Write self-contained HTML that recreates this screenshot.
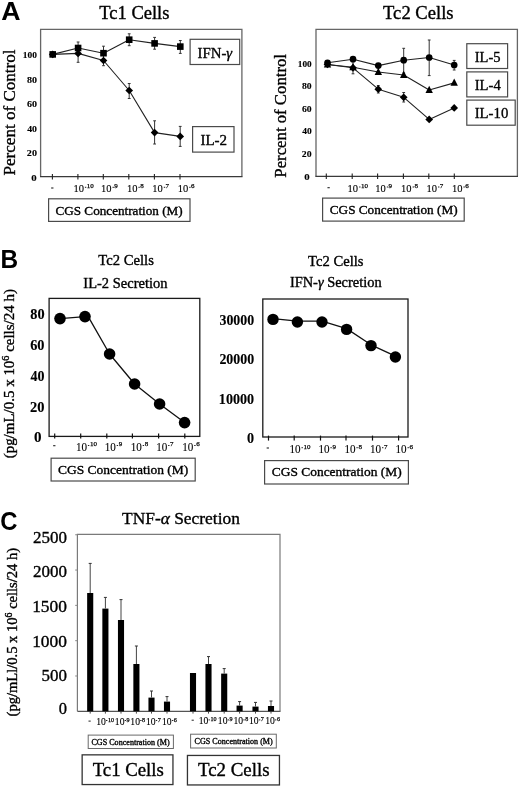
<!DOCTYPE html><html><head><meta charset="utf-8"><style>html,body{margin:0;padding:0;background:#fff;width:520px;height:787px;overflow:hidden}svg{display:block;will-change:transform}text{stroke:#000;stroke-width:0.35px;stroke-linejoin:round}</style></head><body>
<svg width="520" height="787" viewBox="0 0 520 787">
<rect x="0" y="0" width="520" height="787" fill="#fff"/>
<text x="1.33" y="19.6" font-size="25.2" font-weight="bold" font-family='"Liberation Sans", sans-serif' fill="#000" textLength="19.29" lengthAdjust="spacingAndGlyphs" style="stroke:none">A</text>
<text x="99.28" y="19.2" font-size="18.5" font-weight="normal" font-family='"Liberation Serif", serif' fill="#000" textLength="70.18" lengthAdjust="spacingAndGlyphs">Tc1 Cells</text>
<polyline points="40.6,176.6 40.6,29.4 241.9,29.4 241.9,176.6" fill="none" stroke="#666" stroke-width="1.3"/>
<line x1="40.0" y1="176.6" x2="242.5" y2="176.6" stroke="#3a3a3a" stroke-width="1.3"/>
<text x="31.29" y="180.9" font-size="9.2" font-weight="bold" font-family='"Liberation Serif", serif' fill="#000" textLength="5.41" lengthAdjust="spacingAndGlyphs" style="stroke-width:0.12px">0</text>
<text x="26.87" y="156.4" font-size="9.2" font-weight="bold" font-family='"Liberation Serif", serif' fill="#000" textLength="10.11" lengthAdjust="spacingAndGlyphs" style="stroke-width:0.12px">20</text>
<text x="27.18" y="131.9" font-size="9.2" font-weight="bold" font-family='"Liberation Serif", serif' fill="#000" textLength="9.79" lengthAdjust="spacingAndGlyphs" style="stroke-width:0.12px">40</text>
<text x="26.95" y="107.4" font-size="9.2" font-weight="bold" font-family='"Liberation Serif", serif' fill="#000" textLength="10.03" lengthAdjust="spacingAndGlyphs" style="stroke-width:0.12px">60</text>
<text x="26.98" y="82.9" font-size="9.2" font-weight="bold" font-family='"Liberation Serif", serif' fill="#000" textLength="10.0" lengthAdjust="spacingAndGlyphs" style="stroke-width:0.12px">80</text>
<text x="22.85" y="58.4" font-size="9.2" font-weight="bold" font-family='"Liberation Serif", serif' fill="#000" textLength="14.1" lengthAdjust="spacingAndGlyphs" style="stroke-width:0.12px">100</text>
<line x1="52.4" y1="174.0" x2="52.4" y2="179.4" stroke="#222" stroke-width="1.1"/>
<line x1="77.9" y1="174.0" x2="77.9" y2="179.4" stroke="#222" stroke-width="1.1"/>
<line x1="103.3" y1="174.0" x2="103.3" y2="179.4" stroke="#222" stroke-width="1.1"/>
<line x1="128.8" y1="174.0" x2="128.8" y2="179.4" stroke="#222" stroke-width="1.1"/>
<line x1="154.4" y1="174.0" x2="154.4" y2="179.4" stroke="#222" stroke-width="1.1"/>
<line x1="180.0" y1="174.0" x2="180.0" y2="179.4" stroke="#222" stroke-width="1.1"/>
<rect x="51.15" y="187.45" width="2.3" height="1.1" fill="#222"/>
<text x="73.38" y="192.3" font-size="11.0" font-family='"Liberation Serif", serif' fill="#000" textLength="10.53" lengthAdjust="spacingAndGlyphs" style="stroke-width:0.1px">10</text>
<rect x="84.9" y="186.8" width="1.4" height="1.0" fill="#222"/>
<text x="86.7" y="188.2" font-size="7.0" font-family='"Liberation Serif", serif' fill="#000" style="stroke-width:0.25px">10</text>
<text x="100.98" y="192.3" font-size="11.0" font-family='"Liberation Serif", serif' fill="#000" textLength="10.53" lengthAdjust="spacingAndGlyphs" style="stroke-width:0.1px">10</text>
<rect x="112.5" y="186.8" width="1.4" height="1.0" fill="#222"/>
<text x="114.3" y="188.2" font-size="7.0" font-family='"Liberation Serif", serif' fill="#000" style="stroke-width:0.25px">9</text>
<text x="126.88" y="192.3" font-size="11.0" font-family='"Liberation Serif", serif' fill="#000" textLength="10.53" lengthAdjust="spacingAndGlyphs" style="stroke-width:0.1px">10</text>
<rect x="138.4" y="186.8" width="1.4" height="1.0" fill="#222"/>
<text x="140.2" y="188.2" font-size="7.0" font-family='"Liberation Serif", serif' fill="#000" style="stroke-width:0.25px">8</text>
<text x="152.28" y="192.3" font-size="11.0" font-family='"Liberation Serif", serif' fill="#000" textLength="10.53" lengthAdjust="spacingAndGlyphs" style="stroke-width:0.1px">10</text>
<rect x="163.8" y="186.8" width="1.4" height="1.0" fill="#222"/>
<text x="165.6" y="188.2" font-size="7.0" font-family='"Liberation Serif", serif' fill="#000" style="stroke-width:0.25px">7</text>
<text x="177.68" y="192.3" font-size="11.0" font-family='"Liberation Serif", serif' fill="#000" textLength="10.53" lengthAdjust="spacingAndGlyphs" style="stroke-width:0.1px">10</text>
<rect x="189.2" y="186.8" width="1.4" height="1.0" fill="#222"/>
<text x="191.0" y="188.2" font-size="7.0" font-family='"Liberation Serif", serif' fill="#000" style="stroke-width:0.25px">6</text>
<text transform="translate(14.6,175.47) rotate(-90)" font-size="17" font-weight="normal" font-family='"Liberation Serif", serif' fill="#000" textLength="126.01" lengthAdjust="spacingAndGlyphs">Percent of Control</text>
<polyline points="52.7,54.4 78.1,53.4 103.5,60.5 129.2,90.5 154.6,132.6 180.2,136.4" fill="none" stroke="#222" stroke-width="1.1" stroke-linejoin="round"/>
<polyline points="52.7,54.4 78.1,48.0 103.5,53.2 129.2,39.7 154.6,43.4 180.3,46.6" fill="none" stroke="#222" stroke-width="1.1" stroke-linejoin="round"/>
<line x1="78.1" y1="42.0" x2="78.1" y2="62.3" stroke="#333" stroke-width="1"/>
<line x1="76.7" y1="42.0" x2="79.5" y2="42.0" stroke="#333" stroke-width="1"/>
<line x1="76.7" y1="62.3" x2="79.5" y2="62.3" stroke="#333" stroke-width="1"/>
<line x1="103.5" y1="46.2" x2="103.5" y2="65.7" stroke="#333" stroke-width="1"/>
<line x1="102.1" y1="46.2" x2="104.9" y2="46.2" stroke="#333" stroke-width="1"/>
<line x1="102.1" y1="65.7" x2="104.9" y2="65.7" stroke="#333" stroke-width="1"/>
<line x1="129.2" y1="33.8" x2="129.2" y2="45.7" stroke="#333" stroke-width="1"/>
<line x1="127.8" y1="33.8" x2="130.6" y2="33.8" stroke="#333" stroke-width="1"/>
<line x1="127.8" y1="45.7" x2="130.6" y2="45.7" stroke="#333" stroke-width="1"/>
<line x1="154.6" y1="37.4" x2="154.6" y2="49.2" stroke="#333" stroke-width="1"/>
<line x1="153.2" y1="37.4" x2="156.0" y2="37.4" stroke="#333" stroke-width="1"/>
<line x1="153.2" y1="49.2" x2="156.0" y2="49.2" stroke="#333" stroke-width="1"/>
<line x1="180.3" y1="40.5" x2="180.3" y2="53.4" stroke="#333" stroke-width="1"/>
<line x1="178.9" y1="40.5" x2="181.7" y2="40.5" stroke="#333" stroke-width="1"/>
<line x1="178.9" y1="53.4" x2="181.7" y2="53.4" stroke="#333" stroke-width="1"/>
<line x1="129.2" y1="83.5" x2="129.2" y2="98.5" stroke="#333" stroke-width="1"/>
<line x1="127.8" y1="83.5" x2="130.6" y2="83.5" stroke="#333" stroke-width="1"/>
<line x1="127.8" y1="98.5" x2="130.6" y2="98.5" stroke="#333" stroke-width="1"/>
<line x1="154.6" y1="120.8" x2="154.6" y2="144.0" stroke="#333" stroke-width="1"/>
<line x1="153.2" y1="120.8" x2="156.0" y2="120.8" stroke="#333" stroke-width="1"/>
<line x1="153.2" y1="144.0" x2="156.0" y2="144.0" stroke="#333" stroke-width="1"/>
<line x1="180.2" y1="126.4" x2="180.2" y2="146.4" stroke="#333" stroke-width="1"/>
<line x1="178.8" y1="126.4" x2="181.6" y2="126.4" stroke="#333" stroke-width="1"/>
<line x1="178.8" y1="146.4" x2="181.6" y2="146.4" stroke="#333" stroke-width="1"/>
<polygon points="52.7,50.55 56.55,54.4 52.7,58.25 48.85,54.4" fill="#000"/>
<polygon points="78.1,49.55 81.95,53.4 78.1,57.25 74.25,53.4" fill="#000"/>
<polygon points="103.5,56.65 107.35,60.5 103.5,64.35 99.65,60.5" fill="#000"/>
<polygon points="129.2,86.65 133.05,90.5 129.2,94.35 125.35,90.5" fill="#000"/>
<polygon points="154.6,128.75 158.45,132.6 154.6,136.45 150.75,132.6" fill="#000"/>
<polygon points="180.2,132.55 184.05,136.4 180.2,140.25 176.35,136.4" fill="#000"/>
<rect x="49.4" y="51.1" width="6.6" height="6.6" fill="#000"/>
<rect x="74.8" y="44.7" width="6.6" height="6.6" fill="#000"/>
<rect x="100.2" y="49.9" width="6.6" height="6.6" fill="#000"/>
<rect x="125.9" y="36.4" width="6.6" height="6.6" fill="#000"/>
<rect x="151.3" y="40.1" width="6.6" height="6.6" fill="#000"/>
<rect x="177.0" y="43.3" width="6.6" height="6.6" fill="#000"/>
<rect x="190.1" y="39.3" width="49.6" height="25.2" stroke="#4a4a4a" stroke-width="1.2" fill="none"/>
<text x="197.59" y="57.7" font-size="14.5" font-weight="normal" font-family='"Liberation Serif", serif' fill="#000" textLength="34.62" lengthAdjust="spacingAndGlyphs">IFN-<tspan font-style="italic">γ</tspan></text>
<rect x="192.6" y="126.6" width="41.4" height="25.5" stroke="#4a4a4a" stroke-width="1.2" fill="none"/>
<text x="200.48" y="145.1" font-size="14.5" font-weight="normal" font-family='"Liberation Serif", serif' fill="#000" textLength="26.64" lengthAdjust="spacingAndGlyphs">IL-2</text>
<rect x="48.6" y="198.8" width="141.4" height="22.6" stroke="#4a4a4a" stroke-width="1.2" fill="none"/>
<text x="55.47" y="214.8" font-size="12.5" font-weight="normal" font-family='"Liberation Serif", serif' fill="#000" textLength="127.19" lengthAdjust="spacingAndGlyphs">CGS Concentration (M)</text>
<text x="383.07" y="19.2" font-size="18.5" font-weight="normal" font-family='"Liberation Serif", serif' fill="#000" textLength="70.49" lengthAdjust="spacingAndGlyphs">Tc2 Cells</text>
<polyline points="316,176.4 316,29.4 517.4,29.4 517.4,176.4" fill="none" stroke="#666" stroke-width="1.3"/>
<line x1="315.4" y1="176.4" x2="518.0" y2="176.4" stroke="#3a3a3a" stroke-width="1.3"/>
<text x="304.39" y="179.5" font-size="9.2" font-weight="bold" font-family='"Liberation Serif", serif' fill="#000" textLength="5.41" lengthAdjust="spacingAndGlyphs" style="stroke-width:0.12px">0</text>
<text x="301.88" y="156.9" font-size="9.2" font-weight="bold" font-family='"Liberation Serif", serif' fill="#000" textLength="9.78" lengthAdjust="spacingAndGlyphs" style="stroke-width:0.12px">20</text>
<text x="302.18" y="134.3" font-size="9.2" font-weight="bold" font-family='"Liberation Serif", serif' fill="#000" textLength="9.47" lengthAdjust="spacingAndGlyphs" style="stroke-width:0.12px">40</text>
<text x="301.96" y="111.7" font-size="9.2" font-weight="bold" font-family='"Liberation Serif", serif' fill="#000" textLength="9.7" lengthAdjust="spacingAndGlyphs" style="stroke-width:0.12px">60</text>
<text x="301.99" y="89.1" font-size="9.2" font-weight="bold" font-family='"Liberation Serif", serif' fill="#000" textLength="9.68" lengthAdjust="spacingAndGlyphs" style="stroke-width:0.12px">80</text>
<text x="297.76" y="66.5" font-size="9.2" font-weight="bold" font-family='"Liberation Serif", serif' fill="#000" textLength="13.89" lengthAdjust="spacingAndGlyphs" style="stroke-width:0.12px">100</text>
<line x1="326.3" y1="173.6" x2="326.3" y2="179.0" stroke="#222" stroke-width="1.1"/>
<line x1="352.2" y1="173.6" x2="352.2" y2="179.0" stroke="#222" stroke-width="1.1"/>
<line x1="377.6" y1="173.6" x2="377.6" y2="179.0" stroke="#222" stroke-width="1.1"/>
<line x1="403.4" y1="173.6" x2="403.4" y2="179.0" stroke="#222" stroke-width="1.1"/>
<line x1="428.8" y1="173.6" x2="428.8" y2="179.0" stroke="#222" stroke-width="1.1"/>
<line x1="454.3" y1="173.6" x2="454.3" y2="179.0" stroke="#222" stroke-width="1.1"/>
<rect x="327.45" y="187.15" width="2.3" height="1.1" fill="#222"/>
<text x="347.58" y="192.0" font-size="11.0" font-family='"Liberation Serif", serif' fill="#000" textLength="10.53" lengthAdjust="spacingAndGlyphs" style="stroke-width:0.1px">10</text>
<rect x="359.1" y="186.5" width="1.4" height="1.0" fill="#222"/>
<text x="360.9" y="187.9" font-size="7.0" font-family='"Liberation Serif", serif' fill="#000" style="stroke-width:0.25px">10</text>
<text x="375.28" y="192.0" font-size="11.0" font-family='"Liberation Serif", serif' fill="#000" textLength="10.53" lengthAdjust="spacingAndGlyphs" style="stroke-width:0.1px">10</text>
<rect x="386.8" y="186.5" width="1.4" height="1.0" fill="#222"/>
<text x="388.6" y="187.9" font-size="7.0" font-family='"Liberation Serif", serif' fill="#000" style="stroke-width:0.25px">9</text>
<text x="401.08" y="192.0" font-size="11.0" font-family='"Liberation Serif", serif' fill="#000" textLength="10.53" lengthAdjust="spacingAndGlyphs" style="stroke-width:0.1px">10</text>
<rect x="412.6" y="186.5" width="1.4" height="1.0" fill="#222"/>
<text x="414.4" y="187.9" font-size="7.0" font-family='"Liberation Serif", serif' fill="#000" style="stroke-width:0.25px">8</text>
<text x="426.48" y="192.0" font-size="11.0" font-family='"Liberation Serif", serif' fill="#000" textLength="10.53" lengthAdjust="spacingAndGlyphs" style="stroke-width:0.1px">10</text>
<rect x="438.0" y="186.5" width="1.4" height="1.0" fill="#222"/>
<text x="439.8" y="187.9" font-size="7.0" font-family='"Liberation Serif", serif' fill="#000" style="stroke-width:0.25px">7</text>
<text x="451.88" y="192.0" font-size="11.0" font-family='"Liberation Serif", serif' fill="#000" textLength="10.53" lengthAdjust="spacingAndGlyphs" style="stroke-width:0.1px">10</text>
<rect x="463.4" y="186.5" width="1.4" height="1.0" fill="#222"/>
<text x="465.2" y="187.9" font-size="7.0" font-family='"Liberation Serif", serif' fill="#000" style="stroke-width:0.25px">6</text>
<text transform="translate(286.0,177.66) rotate(-90)" font-size="17" font-weight="normal" font-family='"Liberation Serif", serif' fill="#000" textLength="123.69" lengthAdjust="spacingAndGlyphs">Percent of Control</text>
<polyline points="327.5,64.5 353.0,67.8 378.3,89.2 403.7,97.3 429.2,119.4 454.2,107.9" fill="none" stroke="#222" stroke-width="1.1" stroke-linejoin="round"/>
<polyline points="327.5,64.5 353.0,67.3 378.3,72.0 403.7,75.0 429.2,90.0 454.2,82.9" fill="none" stroke="#222" stroke-width="1.1" stroke-linejoin="round"/>
<polyline points="327.5,62.8 353.0,59.2 378.3,65.6 403.7,60.2 429.2,57.5 454.2,65.0" fill="none" stroke="#222" stroke-width="1.1" stroke-linejoin="round"/>
<line x1="353.0" y1="60.0" x2="353.0" y2="73.8" stroke="#333" stroke-width="1"/>
<line x1="351.6" y1="60.0" x2="354.4" y2="60.0" stroke="#333" stroke-width="1"/>
<line x1="351.6" y1="73.8" x2="354.4" y2="73.8" stroke="#333" stroke-width="1"/>
<line x1="403.7" y1="48.3" x2="403.7" y2="73.0" stroke="#333" stroke-width="1"/>
<line x1="402.3" y1="48.3" x2="405.1" y2="48.3" stroke="#333" stroke-width="1"/>
<line x1="402.3" y1="73.0" x2="405.1" y2="73.0" stroke="#333" stroke-width="1"/>
<line x1="429.2" y1="40.0" x2="429.2" y2="75.6" stroke="#333" stroke-width="1"/>
<line x1="427.8" y1="40.0" x2="430.6" y2="40.0" stroke="#333" stroke-width="1"/>
<line x1="427.8" y1="75.6" x2="430.6" y2="75.6" stroke="#333" stroke-width="1"/>
<line x1="454.2" y1="60.4" x2="454.2" y2="70.0" stroke="#333" stroke-width="1"/>
<line x1="452.8" y1="60.4" x2="455.6" y2="60.4" stroke="#333" stroke-width="1"/>
<line x1="452.8" y1="70.0" x2="455.6" y2="70.0" stroke="#333" stroke-width="1"/>
<line x1="378.3" y1="85.5" x2="378.3" y2="93.0" stroke="#333" stroke-width="1"/>
<line x1="376.9" y1="85.5" x2="379.7" y2="85.5" stroke="#333" stroke-width="1"/>
<line x1="376.9" y1="93.0" x2="379.7" y2="93.0" stroke="#333" stroke-width="1"/>
<line x1="403.7" y1="92.5" x2="403.7" y2="102.0" stroke="#333" stroke-width="1"/>
<line x1="402.3" y1="92.5" x2="405.1" y2="92.5" stroke="#333" stroke-width="1"/>
<line x1="402.3" y1="102.0" x2="405.1" y2="102.0" stroke="#333" stroke-width="1"/>
<polygon points="327.5,60.65 331.35,64.5 327.5,68.35 323.65,64.5" fill="#000"/>
<polygon points="353.0,63.95 356.85,67.8 353.0,71.65 349.15,67.8" fill="#000"/>
<polygon points="378.3,85.35 382.15,89.2 378.3,93.05 374.45,89.2" fill="#000"/>
<polygon points="403.7,93.45 407.55,97.3 403.7,101.15 399.85,97.3" fill="#000"/>
<polygon points="429.2,115.55 433.05,119.4 429.2,123.25 425.35,119.4" fill="#000"/>
<polygon points="454.2,104.05 458.05,107.9 454.2,111.75 450.35,107.9" fill="#000"/>
<polygon points="327.5,60.18 331.2,67.38 323.8,67.38" fill="#000"/>
<polygon points="353.0,62.98 356.7,70.18 349.3,70.18" fill="#000"/>
<polygon points="378.3,67.68 382.0,74.88 374.6,74.88" fill="#000"/>
<polygon points="403.7,70.68 407.4,77.88 400.0,77.88" fill="#000"/>
<polygon points="429.2,85.68 432.9,92.88 425.5,92.88" fill="#000"/>
<polygon points="454.2,78.58 457.9,85.78 450.5,85.78" fill="#000"/>
<circle cx="327.5" cy="62.8" r="3.35" fill="#000"/>
<circle cx="353.0" cy="59.2" r="3.35" fill="#000"/>
<circle cx="378.3" cy="65.6" r="3.35" fill="#000"/>
<circle cx="403.7" cy="60.2" r="3.35" fill="#000"/>
<circle cx="429.2" cy="57.5" r="3.35" fill="#000"/>
<circle cx="454.2" cy="65.0" r="3.35" fill="#000"/>
<rect x="466.8" y="43.7" width="40.8" height="24.8" stroke="#4a4a4a" stroke-width="1.2" fill="none"/>
<text x="474.69" y="61.8" font-size="15" font-weight="normal" font-family='"Liberation Serif", serif' fill="#000" textLength="25.88" lengthAdjust="spacingAndGlyphs">IL-5</text>
<rect x="466.8" y="71.9" width="40.8" height="25.0" stroke="#4a4a4a" stroke-width="1.2" fill="none"/>
<text x="474.69" y="89.7" font-size="15" font-weight="normal" font-family='"Liberation Serif", serif' fill="#000" textLength="26.13" lengthAdjust="spacingAndGlyphs">IL-4</text>
<rect x="466.8" y="100.1" width="48.4" height="25.1" stroke="#4a4a4a" stroke-width="1.2" fill="none"/>
<text x="474.68" y="117.9" font-size="15" font-weight="normal" font-family='"Liberation Serif", serif' fill="#000" textLength="33.66" lengthAdjust="spacingAndGlyphs">IL-10</text>
<rect x="322.6" y="198.1" width="141.6" height="23.0" stroke="#4a4a4a" stroke-width="1.2" fill="none"/>
<text x="329.77" y="214.3" font-size="12.5" font-weight="normal" font-family='"Liberation Serif", serif' fill="#000" textLength="127.8" lengthAdjust="spacingAndGlyphs">CGS Concentration (M)</text>
<text x="0.45" y="268.0" font-size="25.3" font-weight="bold" font-family='"Liberation Sans", sans-serif' fill="#000" textLength="17.64" lengthAdjust="spacingAndGlyphs" style="stroke:none">B</text>
<text x="98.34" y="265.4" font-size="14" font-weight="normal" font-family='"Liberation Serif", serif' fill="#000" textLength="55.58" lengthAdjust="spacingAndGlyphs">Tc2 Cells</text>
<text x="83.39" y="287.5" font-size="14" font-weight="normal" font-family='"Liberation Serif", serif' fill="#000" textLength="84.04" lengthAdjust="spacingAndGlyphs">IL-2 Secretion</text>
<rect x="49.1" y="298.4" width="150.7" height="138.0" stroke="#1a1a1a" stroke-width="1.3" fill="none"/>
<text x="33.94" y="441.8" font-size="14" font-weight="bold" font-family='"Liberation Serif", serif' fill="#000" textLength="7.53" lengthAdjust="spacingAndGlyphs" style="stroke-width:0.12px">0</text>
<text x="30.09" y="411.7" font-size="14" font-weight="bold" font-family='"Liberation Serif", serif' fill="#000" textLength="14.46" lengthAdjust="spacingAndGlyphs" style="stroke-width:0.12px">20</text>
<text x="30.52" y="380.65" font-size="14" font-weight="bold" font-family='"Liberation Serif", serif' fill="#000" textLength="14.0" lengthAdjust="spacingAndGlyphs" style="stroke-width:0.12px">40</text>
<text x="30.2" y="349.95" font-size="14" font-weight="bold" font-family='"Liberation Serif", serif' fill="#000" textLength="14.34" lengthAdjust="spacingAndGlyphs" style="stroke-width:0.12px">60</text>
<text x="30.24" y="319.3" font-size="14" font-weight="bold" font-family='"Liberation Serif", serif' fill="#000" textLength="14.3" lengthAdjust="spacingAndGlyphs" style="stroke-width:0.12px">80</text>
<line x1="54.7" y1="433.6" x2="54.7" y2="438.6" stroke="#111" stroke-width="1.2"/>
<line x1="80.7" y1="433.6" x2="80.7" y2="438.6" stroke="#111" stroke-width="1.2"/>
<line x1="106.8" y1="433.6" x2="106.8" y2="438.6" stroke="#111" stroke-width="1.2"/>
<line x1="132.4" y1="433.6" x2="132.4" y2="438.6" stroke="#111" stroke-width="1.2"/>
<line x1="158.6" y1="433.6" x2="158.6" y2="438.6" stroke="#111" stroke-width="1.2"/>
<line x1="184.8" y1="433.6" x2="184.8" y2="438.6" stroke="#111" stroke-width="1.2"/>
<rect x="53.15" y="445.15" width="2.3" height="1.1" fill="#222"/>
<text x="75.93" y="450.7" font-size="11.6" font-family='"Liberation Serif", serif' fill="#000" textLength="11.09" lengthAdjust="spacingAndGlyphs" style="stroke-width:0.1px">10</text>
<rect x="87.9" y="445.0" width="1.4" height="1.0" fill="#222"/>
<text x="89.9" y="446.4" font-size="7.0" font-family='"Liberation Serif", serif' fill="#000" style="stroke-width:0.25px">10</text>
<text x="104.73" y="450.7" font-size="11.6" font-family='"Liberation Serif", serif' fill="#000" textLength="11.09" lengthAdjust="spacingAndGlyphs" style="stroke-width:0.1px">10</text>
<rect x="116.7" y="445.0" width="1.4" height="1.0" fill="#222"/>
<text x="118.7" y="446.4" font-size="7.0" font-family='"Liberation Serif", serif' fill="#000" style="stroke-width:0.25px">9</text>
<text x="130.73" y="450.7" font-size="11.6" font-family='"Liberation Serif", serif' fill="#000" textLength="11.09" lengthAdjust="spacingAndGlyphs" style="stroke-width:0.1px">10</text>
<rect x="142.7" y="445.0" width="1.4" height="1.0" fill="#222"/>
<text x="144.7" y="446.4" font-size="7.0" font-family='"Liberation Serif", serif' fill="#000" style="stroke-width:0.25px">8</text>
<text x="156.13" y="450.7" font-size="11.6" font-family='"Liberation Serif", serif' fill="#000" textLength="11.09" lengthAdjust="spacingAndGlyphs" style="stroke-width:0.1px">10</text>
<rect x="168.1" y="445.0" width="1.4" height="1.0" fill="#222"/>
<text x="170.1" y="446.4" font-size="7.0" font-family='"Liberation Serif", serif' fill="#000" style="stroke-width:0.25px">7</text>
<text x="182.23" y="450.7" font-size="11.6" font-family='"Liberation Serif", serif' fill="#000" textLength="11.09" lengthAdjust="spacingAndGlyphs" style="stroke-width:0.1px">10</text>
<rect x="194.2" y="445.0" width="1.4" height="1.0" fill="#222"/>
<text x="196.2" y="446.4" font-size="7.0" font-family='"Liberation Serif", serif' fill="#000" style="stroke-width:0.25px">6</text>
<g transform="translate(13.7,458.34) rotate(-90) scale(1.07,1)"><text x="0" y="0" font-size="14" font-family='"Liberation Serif", serif'>(pg/mL/0.5 x 10<tspan font-size="9.5" dy="-5">6</tspan><tspan dy="5"> cells/24 h)</tspan></text></g>
<polyline points="60.0,318.6 85.0,316.6" fill="none" stroke="#111" stroke-width="1.3" stroke-linejoin="round"/>
<polyline points="88.2,316.6 109.6,354.0 134.6,384.0 159.6,404.0 184.6,422.6" fill="none" stroke="#111" stroke-width="1.3" stroke-linejoin="round"/>
<circle cx="60.0" cy="318.6" r="5.8" fill="#000"/>
<circle cx="85.0" cy="316.6" r="5.8" fill="#000"/>
<circle cx="109.6" cy="354.0" r="5.8" fill="#000"/>
<circle cx="134.6" cy="384.0" r="5.8" fill="#000"/>
<circle cx="159.6" cy="404.0" r="5.8" fill="#000"/>
<circle cx="184.6" cy="422.6" r="5.8" fill="#000"/>
<rect x="51.1" y="458.2" width="144.1" height="22.8" stroke="#4a4a4a" stroke-width="1.2" fill="none"/>
<text x="57.96" y="473.5" font-size="12.8" font-weight="normal" font-family='"Liberation Serif", serif' fill="#000" textLength="130.32" lengthAdjust="spacingAndGlyphs">CGS Concentration (M)</text>
<text x="308.14" y="266.0" font-size="14" font-weight="normal" font-family='"Liberation Serif", serif' fill="#000" textLength="55.38" lengthAdjust="spacingAndGlyphs">Tc2 Cells</text>
<text x="289.9" y="287.0" font-size="14" font-weight="normal" font-family='"Liberation Serif", serif' fill="#000" textLength="91.72" lengthAdjust="spacingAndGlyphs">IFN-<tspan font-style="italic">γ</tspan> Secretion</text>
<rect x="262.8" y="299.0" width="145.2" height="138.0" stroke="#1a1a1a" stroke-width="1.3" fill="none"/>
<text x="247.07" y="443.4" font-size="13.6" font-weight="bold" font-family='"Liberation Serif", serif' fill="#000" textLength="7.06" lengthAdjust="spacingAndGlyphs" style="stroke-width:0.12px">0</text>
<text x="218.87" y="403.6" font-size="13.6" font-weight="bold" font-family='"Liberation Serif", serif' fill="#000" textLength="35.26" lengthAdjust="spacingAndGlyphs" style="stroke-width:0.12px">10000</text>
<text x="219.41" y="363.8" font-size="13.6" font-weight="bold" font-family='"Liberation Serif", serif' fill="#000" textLength="34.71" lengthAdjust="spacingAndGlyphs" style="stroke-width:0.12px">20000</text>
<text x="219.48" y="324.9" font-size="13.6" font-weight="bold" font-family='"Liberation Serif", serif' fill="#000" textLength="34.64" lengthAdjust="spacingAndGlyphs" style="stroke-width:0.12px">30000</text>
<line x1="268.5" y1="435.6" x2="268.5" y2="440.6" stroke="#111" stroke-width="1.2"/>
<line x1="294.2" y1="435.6" x2="294.2" y2="440.6" stroke="#111" stroke-width="1.2"/>
<line x1="320.5" y1="435.6" x2="320.5" y2="440.6" stroke="#111" stroke-width="1.2"/>
<line x1="346.0" y1="435.6" x2="346.0" y2="440.6" stroke="#111" stroke-width="1.2"/>
<line x1="372.5" y1="435.6" x2="372.5" y2="440.6" stroke="#111" stroke-width="1.2"/>
<line x1="398.6" y1="435.6" x2="398.6" y2="440.6" stroke="#111" stroke-width="1.2"/>
<rect x="266.65" y="447.45" width="2.3" height="1.1" fill="#222"/>
<text x="289.53" y="452.9" font-size="11.6" font-family='"Liberation Serif", serif' fill="#000" textLength="11.09" lengthAdjust="spacingAndGlyphs" style="stroke-width:0.1px">10</text>
<rect x="301.5" y="447.2" width="1.4" height="1.0" fill="#222"/>
<text x="303.5" y="448.6" font-size="7.0" font-family='"Liberation Serif", serif' fill="#000" style="stroke-width:0.25px">10</text>
<text x="318.43" y="452.9" font-size="11.6" font-family='"Liberation Serif", serif' fill="#000" textLength="11.09" lengthAdjust="spacingAndGlyphs" style="stroke-width:0.1px">10</text>
<rect x="330.4" y="447.2" width="1.4" height="1.0" fill="#222"/>
<text x="332.4" y="448.6" font-size="7.0" font-family='"Liberation Serif", serif' fill="#000" style="stroke-width:0.25px">9</text>
<text x="344.43" y="452.9" font-size="11.6" font-family='"Liberation Serif", serif' fill="#000" textLength="11.09" lengthAdjust="spacingAndGlyphs" style="stroke-width:0.1px">10</text>
<rect x="356.4" y="447.2" width="1.4" height="1.0" fill="#222"/>
<text x="358.4" y="448.6" font-size="7.0" font-family='"Liberation Serif", serif' fill="#000" style="stroke-width:0.25px">8</text>
<text x="370.03" y="452.9" font-size="11.6" font-family='"Liberation Serif", serif' fill="#000" textLength="11.09" lengthAdjust="spacingAndGlyphs" style="stroke-width:0.1px">10</text>
<rect x="382.0" y="447.2" width="1.4" height="1.0" fill="#222"/>
<text x="384.0" y="448.6" font-size="7.0" font-family='"Liberation Serif", serif' fill="#000" style="stroke-width:0.25px">7</text>
<text x="395.53" y="452.9" font-size="11.6" font-family='"Liberation Serif", serif' fill="#000" textLength="11.09" lengthAdjust="spacingAndGlyphs" style="stroke-width:0.1px">10</text>
<rect x="407.5" y="447.2" width="1.4" height="1.0" fill="#222"/>
<text x="409.5" y="448.6" font-size="7.0" font-family='"Liberation Serif", serif' fill="#000" style="stroke-width:0.25px">6</text>
<polyline points="273.0,318.6 297.4,321.2 322.0,321.2 346.6,328.6 371.0,344.8 395.4,356.2" fill="none" stroke="#111" stroke-width="1.3" stroke-linejoin="round"/>
<circle cx="273.0" cy="319.4" r="5.7" fill="#000"/>
<circle cx="297.4" cy="322.0" r="5.7" fill="#000"/>
<circle cx="322.0" cy="322.0" r="5.7" fill="#000"/>
<circle cx="346.6" cy="329.4" r="5.7" fill="#000"/>
<circle cx="371.0" cy="345.6" r="5.7" fill="#000"/>
<circle cx="395.4" cy="357.0" r="5.7" fill="#000"/>
<rect x="264.6" y="460.6" width="143.8" height="23.4" stroke="#4a4a4a" stroke-width="1.2" fill="none"/>
<text x="271.76" y="476.3" font-size="12.8" font-weight="normal" font-family='"Liberation Serif", serif' fill="#000" textLength="129.92" lengthAdjust="spacingAndGlyphs">CGS Concentration (M)</text>
<text x="0.25" y="530.0" font-size="25.6" font-weight="bold" font-family='"Liberation Sans", sans-serif' fill="#000" textLength="17.2" lengthAdjust="spacingAndGlyphs" style="stroke:none">C</text>
<text x="122.1" y="523.5" font-size="17" font-weight="normal" font-family='"Liberation Serif", serif' fill="#000" textLength="117.77" lengthAdjust="spacingAndGlyphs">TNF-<tspan font-style="italic">α</tspan> Secretion</text>
<polyline points="77.4,711.3 77.4,534.3 280,534.3 280,711.3" fill="none" stroke="#7a7a7a" stroke-width="1.2"/>
<line x1="77.4" y1="711.3" x2="280.5" y2="711.3" stroke="#555" stroke-width="1.2"/>
<text x="32.98" y="542.6" font-size="16.7" font-weight="normal" font-family='"Liberation Serif", serif' fill="#000" textLength="33.96" lengthAdjust="spacingAndGlyphs">2500</text>
<line x1="75.2" y1="534.75" x2="77.4" y2="534.75" stroke="#888" stroke-width="1"/>
<text x="32.98" y="576.9" font-size="16.7" font-weight="normal" font-family='"Liberation Serif", serif' fill="#000" textLength="33.96" lengthAdjust="spacingAndGlyphs">2000</text>
<line x1="75.2" y1="570.06" x2="77.4" y2="570.06" stroke="#888" stroke-width="1"/>
<text x="32.18" y="611.7" font-size="16.7" font-weight="normal" font-family='"Liberation Serif", serif' fill="#000" textLength="34.77" lengthAdjust="spacingAndGlyphs">1500</text>
<line x1="75.2" y1="605.37" x2="77.4" y2="605.37" stroke="#888" stroke-width="1"/>
<text x="32.18" y="646.5" font-size="16.7" font-weight="normal" font-family='"Liberation Serif", serif' fill="#000" textLength="34.77" lengthAdjust="spacingAndGlyphs">1000</text>
<line x1="75.2" y1="640.68" x2="77.4" y2="640.68" stroke="#888" stroke-width="1"/>
<text x="41.53" y="681.45" font-size="16.7" font-weight="normal" font-family='"Liberation Serif", serif' fill="#000" textLength="25.41" lengthAdjust="spacingAndGlyphs">500</text>
<line x1="75.2" y1="675.99" x2="77.4" y2="675.99" stroke="#888" stroke-width="1"/>
<text x="58.68" y="714.45" font-size="16.7" font-weight="normal" font-family='"Liberation Serif", serif' fill="#000" textLength="8.24" lengthAdjust="spacingAndGlyphs">0</text>
<g transform="translate(16.8,716.42) rotate(-90) scale(1.04,1)"><text x="0" y="0" font-size="14" font-family='"Liberation Serif", serif'>(pg/mLl/0.5 x 10<tspan font-size="9.5" dy="-5">6</tspan><tspan dy="5"> cells/24 h)</tspan></text></g>
<rect x="87.15" y="593" width="6.1" height="118.3" fill="#000"/>
<line x1="90.2" y1="563.4" x2="90.2" y2="593.0" stroke="#444" stroke-width="1"/>
<line x1="88.7" y1="563.4" x2="91.7" y2="563.4" stroke="#333" stroke-width="1"/>
<line x1="90.2" y1="711.3" x2="90.2" y2="713.6" stroke="#333" stroke-width="0.9"/>
<rect x="102.35" y="608.6" width="6.1" height="102.7" fill="#000"/>
<line x1="105.4" y1="597.4" x2="105.4" y2="608.6" stroke="#444" stroke-width="1"/>
<line x1="103.9" y1="597.4" x2="106.9" y2="597.4" stroke="#333" stroke-width="1"/>
<line x1="105.4" y1="711.3" x2="105.4" y2="713.6" stroke="#333" stroke-width="0.9"/>
<rect x="117.95" y="620" width="6.1" height="91.3" fill="#000"/>
<line x1="121.0" y1="599.6" x2="121.0" y2="620.0" stroke="#444" stroke-width="1"/>
<line x1="119.5" y1="599.6" x2="122.5" y2="599.6" stroke="#333" stroke-width="1"/>
<line x1="121.0" y1="711.3" x2="121.0" y2="713.6" stroke="#333" stroke-width="0.9"/>
<rect x="133.35" y="664" width="6.1" height="47.3" fill="#000"/>
<line x1="136.4" y1="646.0" x2="136.4" y2="664.0" stroke="#444" stroke-width="1"/>
<line x1="134.9" y1="646.0" x2="137.9" y2="646.0" stroke="#333" stroke-width="1"/>
<line x1="136.4" y1="711.3" x2="136.4" y2="713.6" stroke="#333" stroke-width="0.9"/>
<rect x="148.45" y="697.6" width="6.1" height="13.7" fill="#000"/>
<line x1="151.5" y1="691.0" x2="151.5" y2="697.6" stroke="#444" stroke-width="1"/>
<line x1="150.0" y1="691.0" x2="153.0" y2="691.0" stroke="#333" stroke-width="1"/>
<line x1="151.5" y1="711.3" x2="151.5" y2="713.6" stroke="#333" stroke-width="0.9"/>
<rect x="163.95" y="701.6" width="6.1" height="9.7" fill="#000"/>
<line x1="167.0" y1="696.6" x2="167.0" y2="701.6" stroke="#444" stroke-width="1"/>
<line x1="165.5" y1="696.6" x2="168.5" y2="696.6" stroke="#333" stroke-width="1"/>
<line x1="167.0" y1="711.3" x2="167.0" y2="713.6" stroke="#333" stroke-width="0.9"/>
<rect x="189.95" y="673" width="6.1" height="38.3" fill="#000"/>
<line x1="193.0" y1="711.3" x2="193.0" y2="713.6" stroke="#333" stroke-width="0.9"/>
<rect x="205.45" y="664" width="6.1" height="47.3" fill="#000"/>
<line x1="208.5" y1="656.6" x2="208.5" y2="664.0" stroke="#444" stroke-width="1"/>
<line x1="207.0" y1="656.6" x2="210.0" y2="656.6" stroke="#333" stroke-width="1"/>
<line x1="208.5" y1="711.3" x2="208.5" y2="713.6" stroke="#333" stroke-width="0.9"/>
<rect x="221.15" y="673.6" width="6.1" height="37.7" fill="#000"/>
<line x1="224.2" y1="668.6" x2="224.2" y2="673.6" stroke="#444" stroke-width="1"/>
<line x1="222.7" y1="668.6" x2="225.7" y2="668.6" stroke="#333" stroke-width="1"/>
<line x1="224.2" y1="711.3" x2="224.2" y2="713.6" stroke="#333" stroke-width="0.9"/>
<rect x="236.55" y="705.6" width="6.1" height="5.7" fill="#000"/>
<line x1="239.6" y1="701.6" x2="239.6" y2="705.6" stroke="#444" stroke-width="1"/>
<line x1="238.1" y1="701.6" x2="241.1" y2="701.6" stroke="#333" stroke-width="1"/>
<line x1="239.6" y1="711.3" x2="239.6" y2="713.6" stroke="#333" stroke-width="0.9"/>
<rect x="252.45" y="706.6" width="6.1" height="4.7" fill="#000"/>
<line x1="255.5" y1="702.4" x2="255.5" y2="706.6" stroke="#444" stroke-width="1"/>
<line x1="254.0" y1="702.4" x2="257.0" y2="702.4" stroke="#333" stroke-width="1"/>
<line x1="255.5" y1="711.3" x2="255.5" y2="713.6" stroke="#333" stroke-width="0.9"/>
<rect x="267.95" y="706" width="6.1" height="5.3" fill="#000"/>
<line x1="271.0" y1="701.0" x2="271.0" y2="706.0" stroke="#444" stroke-width="1"/>
<line x1="269.5" y1="701.0" x2="272.5" y2="701.0" stroke="#333" stroke-width="1"/>
<line x1="271.0" y1="711.3" x2="271.0" y2="713.6" stroke="#333" stroke-width="0.9"/>
<rect x="88.5" y="720.6" width="2.2" height="1.0" fill="#222"/>
<text x="96.16" y="725.0" font-size="9.8" font-family='"Liberation Serif", serif' fill="#000" textLength="9.64" lengthAdjust="spacingAndGlyphs" style="stroke-width:0.1px">10</text>
<rect x="106.0" y="720.0" width="1.4" height="1.0" fill="#222"/>
<text x="107.9" y="721.5" font-size="6.1" font-family='"Liberation Serif", serif' fill="#000" style="stroke-width:0.25px">10</text>
<text x="114.86" y="725.0" font-size="9.8" font-family='"Liberation Serif", serif' fill="#000" textLength="9.64" lengthAdjust="spacingAndGlyphs" style="stroke-width:0.1px">10</text>
<rect x="124.7" y="720.0" width="1.4" height="1.0" fill="#222"/>
<text x="126.6" y="721.5" font-size="6.1" font-family='"Liberation Serif", serif' fill="#000" style="stroke-width:0.25px">9</text>
<text x="130.36" y="725.0" font-size="9.8" font-family='"Liberation Serif", serif' fill="#000" textLength="9.64" lengthAdjust="spacingAndGlyphs" style="stroke-width:0.1px">10</text>
<rect x="140.2" y="720.0" width="1.4" height="1.0" fill="#222"/>
<text x="142.1" y="721.5" font-size="6.1" font-family='"Liberation Serif", serif' fill="#000" style="stroke-width:0.25px">8</text>
<text x="145.96" y="725.0" font-size="9.8" font-family='"Liberation Serif", serif' fill="#000" textLength="9.64" lengthAdjust="spacingAndGlyphs" style="stroke-width:0.1px">10</text>
<rect x="155.8" y="720.0" width="1.4" height="1.0" fill="#222"/>
<text x="157.7" y="721.5" font-size="6.1" font-family='"Liberation Serif", serif' fill="#000" style="stroke-width:0.25px">7</text>
<text x="162.06" y="725.0" font-size="9.8" font-family='"Liberation Serif", serif' fill="#000" textLength="9.64" lengthAdjust="spacingAndGlyphs" style="stroke-width:0.1px">10</text>
<rect x="171.9" y="720.0" width="1.4" height="1.0" fill="#222"/>
<text x="173.8" y="721.5" font-size="6.1" font-family='"Liberation Serif", serif' fill="#000" style="stroke-width:0.25px">6</text>
<rect x="191.6" y="719.7" width="2.2" height="1.0" fill="#222"/>
<text x="198.66" y="724.4" font-size="9.8" font-family='"Liberation Serif", serif' fill="#000" textLength="9.64" lengthAdjust="spacingAndGlyphs" style="stroke-width:0.1px">10</text>
<rect x="208.5" y="719.4" width="1.4" height="1.0" fill="#222"/>
<text x="210.4" y="720.9" font-size="6.1" font-family='"Liberation Serif", serif' fill="#000" style="stroke-width:0.25px">10</text>
<text x="217.86" y="724.4" font-size="9.8" font-family='"Liberation Serif", serif' fill="#000" textLength="9.64" lengthAdjust="spacingAndGlyphs" style="stroke-width:0.1px">10</text>
<rect x="227.7" y="719.4" width="1.4" height="1.0" fill="#222"/>
<text x="229.6" y="720.9" font-size="6.1" font-family='"Liberation Serif", serif' fill="#000" style="stroke-width:0.25px">9</text>
<text x="233.46" y="724.4" font-size="9.8" font-family='"Liberation Serif", serif' fill="#000" textLength="9.64" lengthAdjust="spacingAndGlyphs" style="stroke-width:0.1px">10</text>
<rect x="243.3" y="719.4" width="1.4" height="1.0" fill="#222"/>
<text x="245.2" y="720.9" font-size="6.1" font-family='"Liberation Serif", serif' fill="#000" style="stroke-width:0.25px">8</text>
<text x="249.06" y="724.4" font-size="9.8" font-family='"Liberation Serif", serif' fill="#000" textLength="9.64" lengthAdjust="spacingAndGlyphs" style="stroke-width:0.1px">10</text>
<rect x="258.9" y="719.4" width="1.4" height="1.0" fill="#222"/>
<text x="260.8" y="720.9" font-size="6.1" font-family='"Liberation Serif", serif' fill="#000" style="stroke-width:0.25px">7</text>
<text x="265.16" y="724.4" font-size="9.8" font-family='"Liberation Serif", serif' fill="#000" textLength="9.64" lengthAdjust="spacingAndGlyphs" style="stroke-width:0.1px">10</text>
<rect x="275.0" y="719.4" width="1.4" height="1.0" fill="#222"/>
<text x="276.9" y="720.9" font-size="6.1" font-family='"Liberation Serif", serif' fill="#000" style="stroke-width:0.25px">6</text>
<rect x="88.2" y="735.1" width="85.2" height="13.4" stroke="#6a6a6a" stroke-width="1.0" fill="none"/>
<text x="91.48" y="744.8" font-size="8.5" font-weight="normal" font-family='"Liberation Serif", serif' fill="#000" textLength="78.17" lengthAdjust="spacingAndGlyphs">CGS Concentration (M)</text>
<rect x="190.6" y="734.2" width="85.7" height="13.8" stroke="#6a6a6a" stroke-width="1.0" fill="none"/>
<text x="194.58" y="743.8" font-size="8.5" font-weight="normal" font-family='"Liberation Serif", serif' fill="#000" textLength="78.17" lengthAdjust="spacingAndGlyphs">CGS Concentration (M)</text>
<rect x="82.15" y="754.85" width="90.8" height="29.7" stroke="#333" stroke-width="1.3" fill="none"/>
<text x="92.67" y="775.6" font-size="18.8" font-weight="normal" font-family='"Liberation Serif", serif' fill="#000" textLength="71.2" lengthAdjust="spacingAndGlyphs">Tc1 Cells</text>
<rect x="187.45" y="755.45" width="92.0" height="29.5" stroke="#333" stroke-width="1.3" fill="none"/>
<text x="197.97" y="776.0" font-size="18.8" font-weight="normal" font-family='"Liberation Serif", serif' fill="#000" textLength="71.6" lengthAdjust="spacingAndGlyphs">Tc2 Cells</text>
</svg></body></html>
